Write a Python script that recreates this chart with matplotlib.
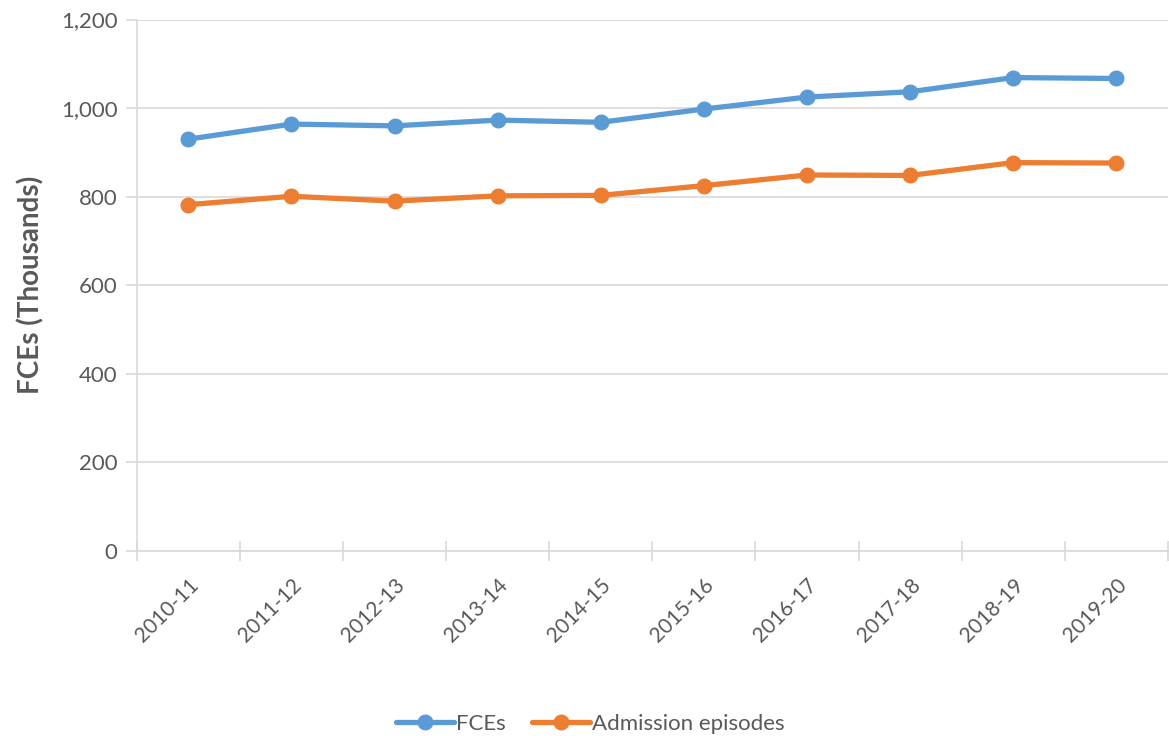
import matplotlib.pyplot as plt
import numpy as np

plt.rcParams['font.family'] = ['Lato', 'DejaVu Sans']

years = ["2010-11", "2011-12", "2012-13", "2013-14", "2014-15",
         "2015-16", "2016-17", "2017-18", "2018-19", "2019-20"]
fces = [930, 964, 960, 973, 968, 998, 1025, 1037, 1069, 1067]
admissions = [782, 801, 790, 802, 803, 825, 849, 848, 877, 876]

grey = '#595959'
grid = '#D9D9D9'

fig = plt.figure(figsize=(11.69, 7.36), dpi=100)
ax = fig.add_axes([0.117, 0.2514, 0.882, 0.722])

x = np.arange(len(years))
ax.plot(x, fces, color='#5B9BD5', lw=3.8, marker='o', ms=10.5, label='FCEs',
        solid_capstyle='round', zorder=3)
ax.plot(x, admissions, color='#ED7D31', lw=3.8, marker='o', ms=10.5,
        label='Admission episodes', solid_capstyle='round', zorder=3)

ax.set_xlim(-0.5, len(years) - 0.5)
ax.set_ylim(0, 1200)
ax.set_yticks(range(0, 1201, 200))
ax.set_yticklabels([f"{v:,}" for v in range(0, 1201, 200)])
ax.yaxis.grid(True, color=grid, lw=1.2)
ax.set_axisbelow(True)

# ticks sit between categories, labels at the centres
ax.set_xticks(np.arange(-0.5, len(years), 1.0), minor=False)
ax.set_xticklabels([])
ax.set_xticks(x, minor=True)
ax.set_xticklabels(years, minor=True, rotation=45, ha='right', va='top',
                   rotation_mode='anchor', fontsize=15, color=grey)
ax.tick_params(axis='x', which='major', direction='inout', length=14,
               color=grid, width=1.2)
ax.tick_params(axis='x', which='minor', length=0, pad=17)
ax.tick_params(axis='y', length=8, color=grid, width=1.2, labelsize=16,
               labelcolor=grey, pad=6)

for s in ['top', 'right']:
    ax.spines[s].set_visible(False)
for s in ['left', 'bottom']:
    ax.spines[s].set_color(grid)
    ax.spines[s].set_linewidth(1.2)

ax.set_ylabel("FCEs (Thousands)", fontsize=20, fontweight='bold',
              color=grey, labelpad=12)

fig.legend(loc='lower center', bbox_to_anchor=(0.505, -0.024), ncol=2,
           frameon=False, fontsize=16, labelcolor=grey, handlelength=2.6,
           columnspacing=1.2, handletextpad=0.1)

fig.savefig('out.png', dpi=100)
